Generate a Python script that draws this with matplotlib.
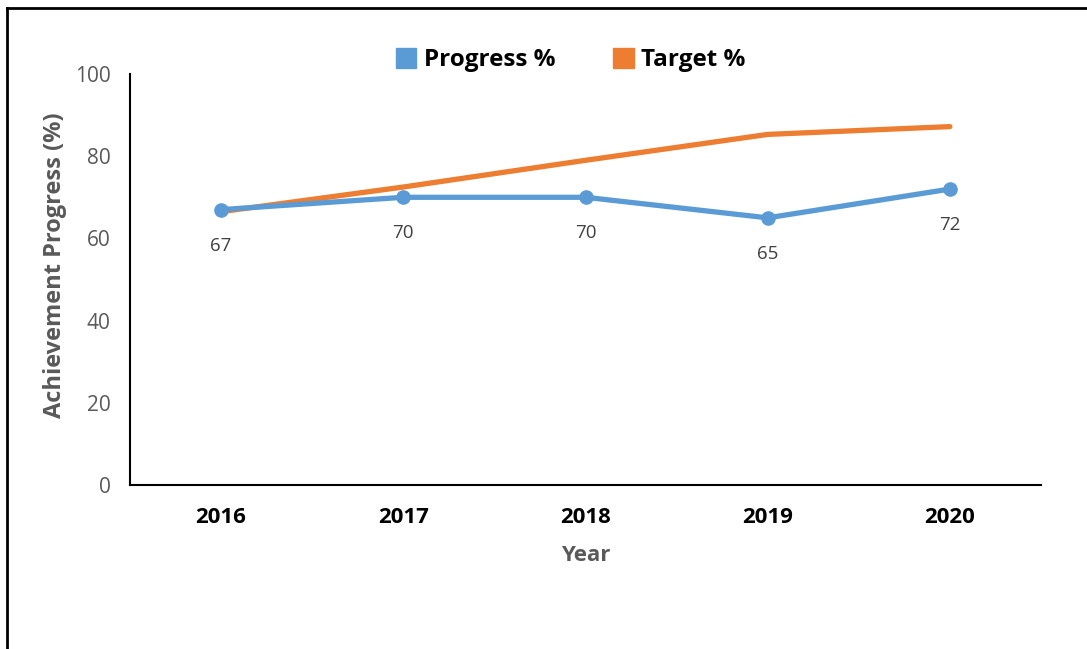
import matplotlib.pyplot as plt
from matplotlib.lines import Line2D
from matplotlib.patches import Patch

# 데이터
years = ["2016", "2017", "2018", "2019", "2020"]
progress = [67, 70, 70, 65, 72]
target = [66.5, 72.5, 79, 85.3, 87.2]

plt.rcParams['font.family'] = ['Open Sans', 'DejaVu Sans']

fig = plt.figure(figsize=(10.87, 6.49), dpi=100)
ax = fig.add_axes([0.1196, 0.2527, 0.8381, 0.6333])

x = list(range(len(years)))
ax.plot(x, target, color='#ED7D31', lw=3.8, solid_capstyle='round', zorder=2)
ax.plot(x, progress, color='#5B9BD5', lw=3.8, marker='o', markersize=9.5,
        solid_capstyle='round', zorder=3)

# 데이터 라벨
for xi, v in zip(x, progress):
    ax.annotate(str(v), (xi, v), xytext=(0, -26), textcoords='offset points',
                ha='center', va='center', fontsize=13.5, color='#404040')

ax.set_xlim(-0.5, len(years) - 0.5)
ax.set_ylim(0, 100)
ax.set_yticks(range(0, 101, 20))
ax.set_xticks(x)
ax.set_xticklabels(years, fontsize=16, fontweight='bold', color='black')
ax.tick_params(axis='y', labelsize=15, labelcolor='#595959', length=0, pad=14)
ax.tick_params(axis='x', length=0, pad=16)

for s in ['top', 'right']:
    ax.spines[s].set_visible(False)
for s in ['left', 'bottom']:
    ax.spines[s].set_linewidth(1.5)
    ax.spines[s].set_color('black')

ax.set_xlabel("Year", fontsize=16, fontweight='bold', color='#595959', labelpad=12)
ax.set_ylabel("Achievement Progress (%)", fontsize=17, fontweight='bold',
              color='#595959')
ax.yaxis.set_label_coords(-0.069, 0.535)

handles = [Patch(color='#5B9BD5', label='Progress %'),
           Patch(color='#ED7D31', label='Target %')]
fig.legend(handles=handles, loc='center', bbox_to_anchor=(0.525, 0.907), ncol=2,
           frameon=False, prop={'size': 17.5, 'weight': 'bold'},
           handlelength=0.85, handleheight=0.85, handletextpad=0.3,
           columnspacing=2.4)

# 외곽 테두리 (위, 왼쪽)
fig.add_artist(Line2D([7 / 1087, 1.0], [1 - 8 / 649, 1 - 8 / 649],
                      transform=fig.transFigure, color='black', lw=2))
fig.add_artist(Line2D([7 / 1087, 7 / 1087], [0, 1 - 8 / 649],
                      transform=fig.transFigure, color='black', lw=2))

plt.savefig("out.png", dpi=100)
plt.close()
